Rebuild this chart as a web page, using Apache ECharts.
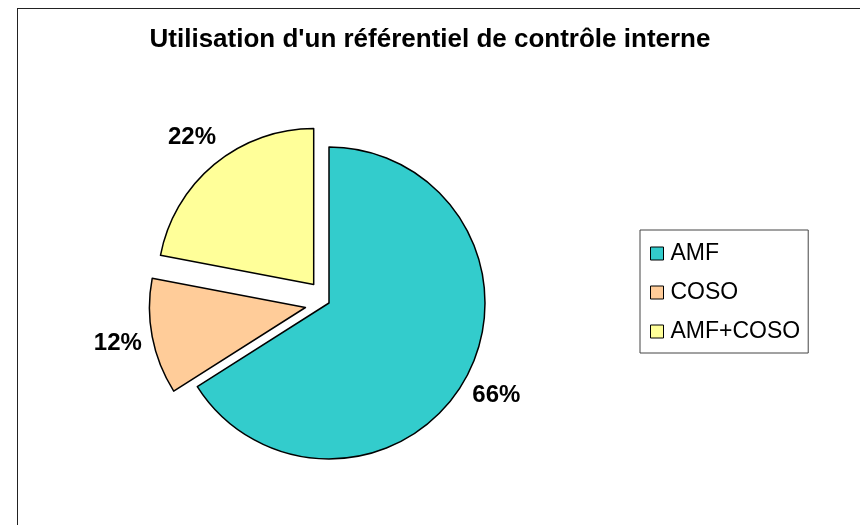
<!DOCTYPE html>
<html>
<head>
<meta charset="utf-8">
<script src="https://cdn.jsdelivr.net/npm/echarts@6/dist/echarts.min.js"></script>
<style>
  html, body { margin: 0; padding: 0; background: #fff; overflow: hidden; }
  .frame {
    position: absolute;
    left: 17px;
    top: 8px;
    width: 900px;
    height: 600px;
    border: 1px solid #222;
  }
  #chart { position: absolute; left: 0; top: 0; width: 860px; height: 525px; }
</style>
</head>
<body>
<div class="frame"></div>
<div id="chart"></div>
<script>
// données
var categories = ['AMF', 'COSO', 'AMF+COSO'];
var values = [66, 12, 22];
var colors = ['#33CCCC', '#FFCC99', '#FFFF99'];
var exploded = [false, true, true];

var chartTitle = "Utilisation d'un référentiel de contrôle interne";

var center = [329, 303];
var offset = 24;

var mainData = categories.map(function (name, i) {
    return {
        name: name,
        value: values[i],
        selected: exploded[i],
        itemStyle: { color: colors[i] }
    };
});

// anneau transparent qui porte seulement les étiquettes
var labelData = categories.map(function (name, i) {
    return { name: name, value: values[i], selected: exploded[i] };
});

var myChart = echarts.init(document.getElementById('chart'));

var option = {
    animation: false,
    title: {
        text: chartTitle,
        left: 'center',
        top: 22,
        textStyle: {
            fontFamily: 'Liberation Sans, Arial',
            fontSize: 26,
            fontWeight: 'bold',
            color: '#000'
        }
    },
    legend: {
        orient: 'vertical',
        left: 640,
        top: 230,
        padding: [12, 8, 10, 10],
        itemGap: 16,
        itemWidth: 13,
        itemHeight: 13,
        icon: 'rect',
        borderColor: '#444',
        borderWidth: 1,
        data: categories.map(function (name, i) {
            return { name: name, itemStyle: { color: colors[i], borderColor: '#000', borderWidth: 1 } };
        }),
        textStyle: {
            fontFamily: 'Liberation Sans, Arial',
            fontSize: 23,
            color: '#000',
            padding: [0, 0, 0, 2]
        }
    },
    series: [
        {
            name: 'main',
            type: 'pie',
            center: center,
            radius: 156,
            startAngle: 90,
            clockwise: true,
            selectedMode: 'multiple',
            selectedOffset: offset,
            emphasis: { disabled: true },
            itemStyle: { borderColor: '#000', borderWidth: 1.5 },
            label: { show: false },
            labelLine: { show: false },
            data: mainData
        },
        {
            name: 'labels',
            type: 'pie',
            silent: true,
            center: center,
            radius: [170, 206],
            startAngle: 90,
            clockwise: true,
            selectedMode: 'multiple',
            selectedOffset: offset,
            emphasis: { disabled: true },
            itemStyle: { color: 'rgba(0,0,0,0)', borderWidth: 0 },
            select: { itemStyle: { color: 'rgba(0,0,0,0)', borderWidth: 0 } },
            label: {
                show: true,
                position: 'inside',
                formatter: function (p) { return Math.round(p.percent) + '%'; },
                fontFamily: 'Liberation Sans, Arial',
                fontSize: 24,
                fontWeight: 'bold',
                color: '#000'
            },
            labelLine: { show: false },
            data: labelData
        }
    ]
};

myChart.setOption(option);
</script>
</body>
</html>
